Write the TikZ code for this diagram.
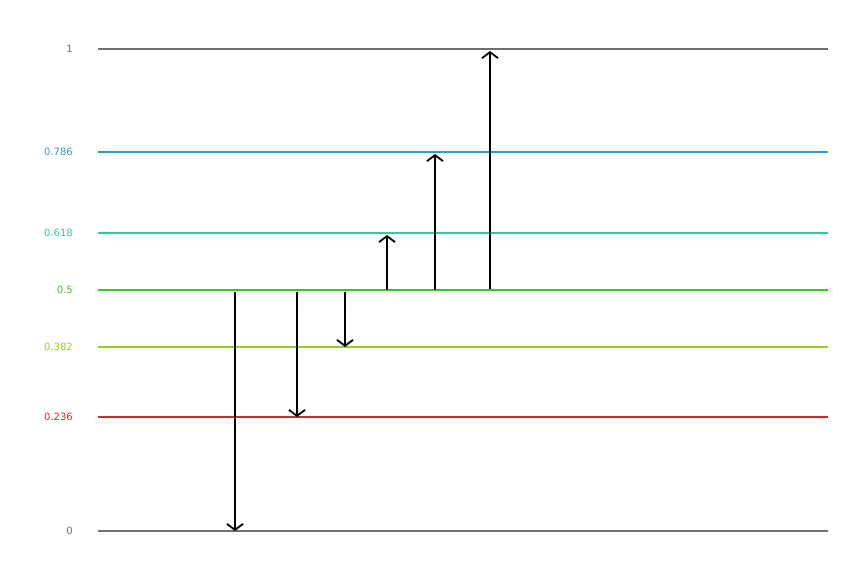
\documentclass[tikz,border=0pt]{standalone}
\usepackage{fontspec}
\setmainfont{DejaVu Sans}
\usetikzlibrary{arrows.meta}
\definecolor{lvgray}{HTML}{707070}
\definecolor{lvblue}{HTML}{2A9AD6}
\definecolor{lvteal}{HTML}{2DCB9B}
\definecolor{lvgreen}{HTML}{2DCC2D}
\definecolor{lvlime}{HTML}{99CC22}
\definecolor{lvred}{HTML}{D12A2A}
\begin{document}
\begin{tikzpicture}[x=1pt,y=-1pt,
  level/.style={line width=1.6pt},
  lvlabel/.style={anchor=east,font=\fontsize{10}{12}\selectfont,inner sep=0pt},
  move/.style={line width=1.8pt,-{Straight Barb[length=6pt,width=16pt,line width=1.8pt]}}]
\useasboundingbox (0,0) rectangle (857,583);
% levels
\foreach \y/\t/\c [count=\i] in {49/1/lvgray,152/0.786/lvblue,233/0.618/lvteal,290/0.5/lvgreen,347/0.382/lvlime,417/0.236/lvred,531/0/lvgray} {
  \coordinate (l\i) at (98,\y);
  \coordinate (r\i) at (828,\y);
  \draw [level,\c] (l\i) -- (r\i);
  \node (t\i) [lvlabel,text=\c] at (73,\y) {\t};
}
% moves
\coordinate (a1) at (235,292); \coordinate (b1) at (235,531);
\coordinate (a2) at (297,292); \coordinate (b2) at (297,417);
\coordinate (a3) at (345,292); \coordinate (b3) at (345,347);
\coordinate (a4) at (387,290); \coordinate (b4) at (387,235);
\coordinate (a5) at (435,290); \coordinate (b5) at (435,154);
\coordinate (a6) at (490,289); \coordinate (b6) at (490,51);
\foreach \i in {1,...,6}
  \draw [move] (a\i) -- (b\i);
\end{tikzpicture}
\end{document}
